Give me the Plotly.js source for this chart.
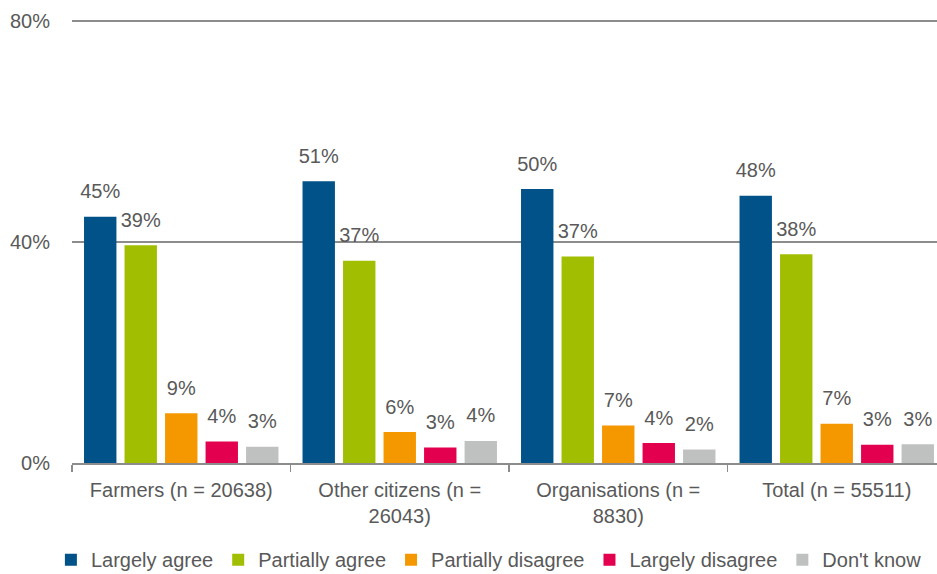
<!DOCTYPE html>
<html>
<head>
<meta charset="utf-8">
<script src="https://cdn.plot.ly/plotly-3.0.1.min.js"></script>
<style>
html, body { margin: 0; padding: 0; overflow: hidden; background: #fff; }
#chart { width: 950px; height: 574px; }
</style>
</head>
<body>
<div id="chart"></div>
<script>
const categories = ['Farmers', 'Other citizens', 'Organisations', 'Total'];
const tickLabels = ['Farmers (n = 20638)', 'Other citizens (n =<br>26043)', 'Organisations (n =<br>8830)', 'Total (n = 55511)'];
const yTickValues = [0, 40, 80];
const yTickLabels = ['0%', '40%', '80%'];
const seriesNames = ['Largely agree', 'Partially agree', 'Partially disagree', 'Largely disagree', "Don't know"];
const largelyAgree = [44.6, 51.0, 49.6, 48.4];
const partiallyAgree = [39.4, 36.6, 37.4, 37.8];
const partiallyDisagree = [9.0, 5.6, 6.8, 7.1];
const largelyDisagree = [3.9, 2.8, 3.6, 3.3];
const dontKnow = [2.95, 4.0, 2.45, 3.4];
const seriesColors = ['#005288', '#A2BE00', '#F59800', '#E2004F', '#BFC1C0'];

const seriesValues = [largelyAgree, partiallyAgree, partiallyDisagree, largelyDisagree, dontKnow];
const FONT = 'Liberation Sans, Arial, sans-serif';
const TXT = '#595959';
const GAP = 0.073;

const barTraces = seriesValues.map((vals, i) => ({
  type: 'bar',
  name: seriesNames[i],
  x: categories,
  y: vals,
  marker: { color: seriesColors[i] },
  hoverinfo: 'skip'
}));

const labelTraces = seriesValues.map((vals, i) => ({
  type: 'scatter',
  mode: 'markers+text',
  name: seriesNames[i] + ' labels',
  showlegend: false,
  x: categories,
  y: vals,
  marker: { size: 20, opacity: 0, color: seriesColors[i] },
  texttemplate: '%{y:.0f}%',
  textposition: 'top center',
  textfont: { family: FONT, size: 20, color: TXT },
  cliponaxis: false,
  hoverinfo: 'skip'
}));

const layout = {
  width: 950,
  height: 574,
  margin: { l: 72, r: 4, t: 20, b: 111 },
  paper_bgcolor: '#ffffff',
  plot_bgcolor: '#ffffff',
  font: { family: FONT, size: 20, color: TXT },
  barmode: 'group',
  bargap: GAP,
  bargroupgap: 0.2,
  scattermode: 'group',
  scattergap: GAP,
  showlegend: true,
  legend: {
    orientation: 'h',
    x: 0.477, xanchor: 'center',
    yref: 'container',
    y: 0.025, yanchor: 'middle',
    font: { family: FONT, size: 20, color: TXT },
    itemwidth: 30,
    traceorder: 'normal'
  },
  xaxis: {
    type: 'category',
    tickvals: categories,
    ticktext: tickLabels,
    showline: true,
    linecolor: '#8c8c8c',
    linewidth: 1.5,
    ticks: 'outside',
    tickson: 'boundaries',
    ticklen: 7,
    tickcolor: '#8c8c8c',
    tickwidth: 1.5,
    ticklabelstandoff: 8,
    showgrid: false,
    tickfont: { family: FONT, size: 20, color: TXT },
    fixedrange: true
  },
  yaxis: {
    range: [0, 80.2],
    tickvals: yTickValues,
    ticktext: yTickLabels,
    showgrid: true,
    gridcolor: '#8c8c8c',
    gridwidth: 1.5,
    zeroline: false,
    showline: false,
    ticks: 'outside',
    ticklen: 17,
    tickcolor: 'rgba(0,0,0,0)',
    tickfont: { family: FONT, size: 20, color: TXT },
    fixedrange: true
  }
};

Plotly.newPlot('chart', barTraces.concat(labelTraces), layout, { displayModeBar: false, staticPlot: true });
</script>
</body>
</html>
